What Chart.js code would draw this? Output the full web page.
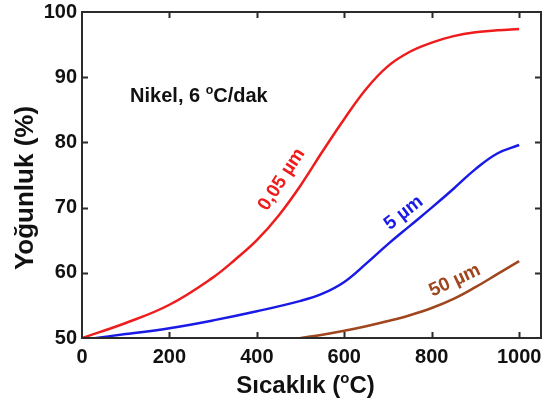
<!DOCTYPE html>
<html>
<head>
<meta charset="utf-8">
<script src="https://cdn.jsdelivr.net/npm/chart.js@4.4.1/dist/chart.umd.min.js"></script>
<style>
  html, body { margin: 0; padding: 0; background: #fff; }
  #wrap { width: 543px; height: 399px; }
</style>
</head>
<body>
<div id="wrap"><canvas id="densityChart" width="543" height="399"></canvas></div>
<script>
// Temperature (°C) and density (%)
const redTemp = [0, 100, 200, 300, 350, 400, 450, 500, 550, 600, 650, 700, 750, 800, 850, 900, 950, 1000];
const redDensity = [50, 52.3, 55.1, 59.3, 62.0, 65.0, 68.8, 73.4, 78.6, 83.6, 88.2, 91.7, 93.9, 95.3, 96.3, 96.9, 97.2, 97.4];

const blueTemp = [20, 100, 200, 300, 400, 500, 550, 600, 650, 700, 750, 800, 850, 900, 950, 1000];
const blueDensity = [49.9, 50.6, 51.5, 52.7, 54.1, 55.7, 56.8, 58.6, 61.4, 64.4, 67.2, 70.0, 72.9, 75.9, 78.3, 79.6];

const brownTemp = [500, 550, 600, 650, 700, 750, 800, 850, 900, 950, 1000];
const brownDensity = [50, 50.5, 51.1, 51.8, 52.6, 53.5, 54.6, 56.0, 57.8, 59.8, 61.8];

const xTicks = [0, 200, 400, 600, 800, 1000];
const yTicks = [50, 60, 70, 80, 90, 100];

const FONT = '"Liberation Sans", Arial, sans-serif';

function toPoints(xs, ys) {
    return xs.map((x, i) => ({ x: x, y: ys[i] }));
}

// text with a raised small "o" (degree sign as in the original)
function drawSupText(ctx, parts, x, y, size, align) {
    const sizes = parts.map(p => p.sup ? size * 0.62 : size);
    let total = 0;
    parts.forEach((p, i) => {
        ctx.font = 'bold ' + sizes[i] + 'px ' + FONT;
        total += ctx.measureText(p.t).width;
    });
    let cx = align === 'center' ? x - total / 2 : x;
    ctx.textAlign = 'left';
    ctx.textBaseline = 'alphabetic';
    parts.forEach((p, i) => {
        ctx.font = 'bold ' + sizes[i] + 'px ' + FONT;
        ctx.fillText(p.t, cx, p.sup ? y - size * 0.4 : y);
        cx += ctx.measureText(p.t).width;
    });
}

const curveLabels = [
    { text: '0,05 µm', color: '#ee1c1c', x: 457, y: 74.3, angle: -57 },
    { text: '5 µm', color: '#1a1ae6', x: 736, y: 69.2, angle: -38 },
    { text: '50 µm', color: '#a0461e', x: 853, y: 58.8, angle: -25 }
];

const framePlugin = {
    id: 'framePlugin',
    afterDraw(chart) {
        const ctx = chart.ctx;
        const area = chart.chartArea;
        const xs = chart.scales.x;
        const ys = chart.scales.y;
        ctx.save();

        // frame
        ctx.strokeStyle = '#2b2b2b';
        ctx.lineWidth = 2;
        ctx.strokeRect(area.left, area.top, area.right - area.left, area.bottom - area.top);

        // inward ticks on all four sides
        const len = 6;
        ctx.beginPath();
        xTicks.forEach(v => {
            if (v === 0) return;
            const px = Math.round(xs.getPixelForValue(v)) + 0.5;
            ctx.moveTo(px, area.bottom); ctx.lineTo(px, area.bottom - len);
            ctx.moveTo(px, area.top); ctx.lineTo(px, area.top + len);
        });
        yTicks.forEach(v => {
            if (v === 50 || v === 100) return;
            const py = Math.round(ys.getPixelForValue(v)) + 0.5;
            ctx.moveTo(area.left, py); ctx.lineTo(area.left + len, py);
            ctx.moveTo(area.right, py); ctx.lineTo(area.right - len, py);
        });
        ctx.stroke();

        // axis titles
        ctx.fillStyle = '#111';
        drawSupText(ctx, [{ t: 'Sıcaklık (' }, { t: 'o', sup: true }, { t: 'C)' }],
            (area.left + area.right) / 2 - 6, 393, 24, 'center');

        ctx.save();
        ctx.translate(33, 188);
        ctx.rotate(-Math.PI / 2);
        ctx.font = 'bold 26px ' + FONT;
        ctx.textAlign = 'center';
        ctx.textBaseline = 'alphabetic';
        ctx.fillText('Yoğunluk (%)', 0, 0);
        ctx.restore();

        // note inside the plot
        drawSupText(ctx, [{ t: 'Nikel, 6 ' }, { t: 'o', sup: true }, { t: 'C/dak' }],
            xs.getPixelForValue(110), ys.getPixelForValue(86.2), 20, 'left');

        // curve labels
        curveLabels.forEach(l => {
            ctx.save();
            ctx.translate(xs.getPixelForValue(l.x), ys.getPixelForValue(l.y));
            ctx.rotate(l.angle * Math.PI / 180);
            ctx.fillStyle = l.color;
            ctx.font = 'bold 19px ' + FONT;
            ctx.textAlign = 'center';
            ctx.textBaseline = 'middle';
            ctx.fillText(l.text, 0, 0);
            ctx.restore();
        });

        ctx.restore();
    }
};

function lineSet(xs, ys, color) {
    return {
        data: toPoints(xs, ys),
        borderColor: color,
        borderWidth: 2.5,
        pointRadius: 0,
        fill: false,
        tension: 0.4
    };
}

const ctx = document.getElementById('densityChart').getContext('2d');
new Chart(ctx, {
    type: 'line',
    data: {
        datasets: [
            lineSet(redTemp, redDensity, '#ee1c1c'),
            lineSet(blueTemp, blueDensity, '#1a1ae6'),
            lineSet(brownTemp, brownDensity, '#a0461e')
        ]
    },
    options: {
        responsive: false,
        animation: false,
        layout: { padding: { top: 12, right: 2, left: 0, bottom: 0 } },
        plugins: {
            legend: { display: false },
            tooltip: { enabled: false }
        },
        scales: {
            x: {
                type: 'linear',
                min: 0,
                max: 1050,
                grid: { display: false, drawTicks: false },
                border: { display: false },
                afterBuildTicks: scale => {
                    scale.ticks = xTicks.map(v => ({ value: v }));
                },
                afterFit: scale => {
                    scale.height = 61;
                    scale.paddingLeft = 0;
                    scale.paddingRight = 0;
                },
                ticks: {
                    color: '#111',
                    padding: 7,
                    maxRotation: 0,
                    callback: v => String(v),
                    font: { family: FONT, size: 20, weight: 'bold' }
                }
            },
            y: {
                type: 'linear',
                min: 50,
                max: 100,
                grid: { display: false, drawTicks: false },
                border: { display: false },
                afterBuildTicks: scale => {
                    scale.ticks = yTicks.map(v => ({ value: v }));
                },
                afterFit: scale => {
                    scale.width = 82;
                    scale.paddingTop = 0;
                    scale.paddingBottom = 0;
                },
                ticks: {
                    color: '#111',
                    padding: 5,
                    callback: v => String(v),
                    font: { family: FONT, size: 20, weight: 'bold' }
                }
            }
        }
    },
    plugins: [framePlugin]
});
</script>
</body>
</html>
